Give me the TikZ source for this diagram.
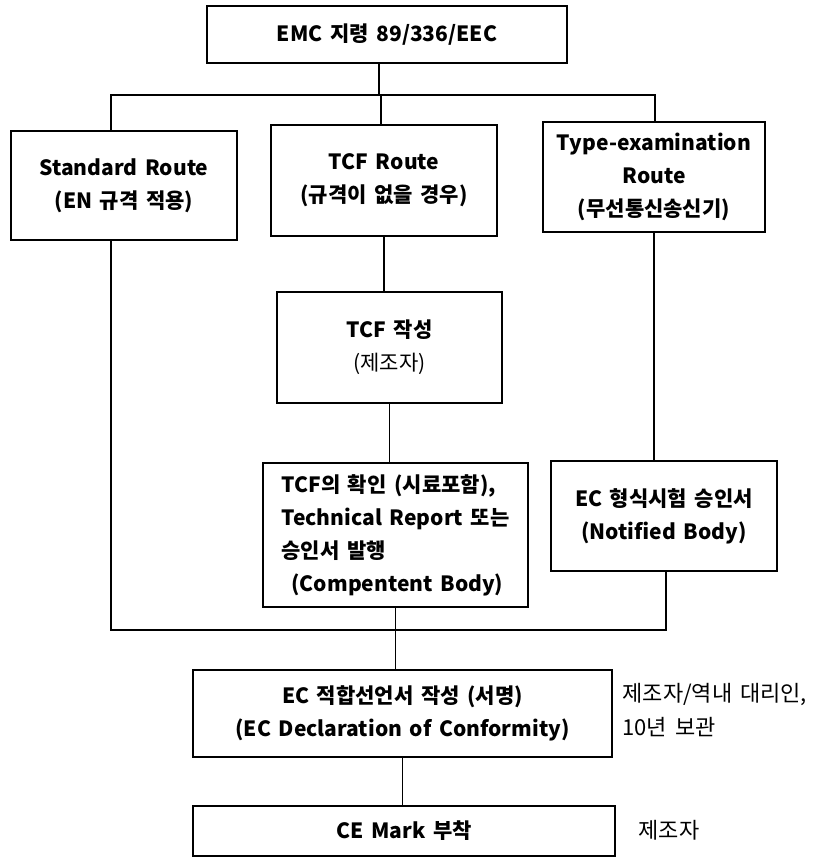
\documentclass[tikz,border=0pt]{standalone}
\usepackage{fontspec}
\setmainfont{Noto Sans CJK KR}[WordSpace=1.6]
\begin{document}
\begin{tikzpicture}[x=1bp,y=-1bp,line width=1.1bp,
  box/.style={draw, inner sep=0pt, align=center,
    font=\bfseries\fontsize{21bp}{33bp}\selectfont},
  side/.style={inner sep=0pt, align=left, anchor=west,
    font=\fontsize{22bp}{34bp}\selectfont}]
\useasboundingbox (0,0) rectangle (828,858);
% boxes
\node[box, minimum width=360bp, minimum height=57bp] (T) at (387,34.5) {EMC 지령 89/336/EEC};
\node[box, minimum width=226bp, minimum height=109bp] (S) at (124,185.5) {Standard Route\\(EN 규격 적용)};
\node[box, minimum width=226bp, minimum height=111bp] (R) at (384,180.5) {TCF Route\\(규격이 없을 경우)};
\node[box, minimum width=222bp, minimum height=110bp] (Y) at (654,177) {Type-examination\\Route\\(무선통신송신기)};
\node[box, minimum width=225bp, minimum height=111bp] (W) at (389.5,347.5) {TCF 작성\\{\mdseries (제조자)}};
\node[box, minimum width=265bp, minimum height=144bp, align=left] (C) at (395.5,535) {TCF의 확인 (시료포함),\\Technical Report 또는\\승인서 발행\\\hspace{10bp}(Compentent Body)};
\node[box, minimum width=226bp, minimum height=110bp] (E) at (664,516) {EC 형식시험 승인서\\(Notified Body)};
\node[box, minimum width=419bp, minimum height=87bp] (D) at (402.5,713.5) {EC 적합선언서 작성 (서명)\\(EC Declaration of Conformity)};
\node[box, minimum width=422bp, minimum height=50bp] (CE) at (404,831) {CE Mark 부착};
% side notes
\node[side] (n1) at (622,710) {제조자/역내 대리인,\\10년 보관};
\node[side] (n2) at (638,830) {제조자};
% junctions
\coordinate (jT) at (379,95);
\coordinate (jL) at (111,95);
\coordinate (jR) at (655,95);
\coordinate (jM) at (381,95);
\coordinate (bL) at (111,630);
\coordinate (bR) at (666,630);
% connectors
\draw (T.south -| jT) -- (jT);
\draw (jL |- S.north) -- (jL) -- (jR) -- (jR |- Y.north);
\draw (jM) -- (jM |- R.north);
\draw (R.south) -- (R.south |- W.north);
\draw (W.south) -- (W.south |- C.north);
\draw (Y.south) -- (Y.south |- E.north);
\draw (E.south -| bR) -- (bR) -- (bL) -- (bL |- S.south);
\draw (C.south) -- (C.south |- D.north);
\draw (D.south) -- (D.south |- CE.north);
\end{tikzpicture}
\end{document}
